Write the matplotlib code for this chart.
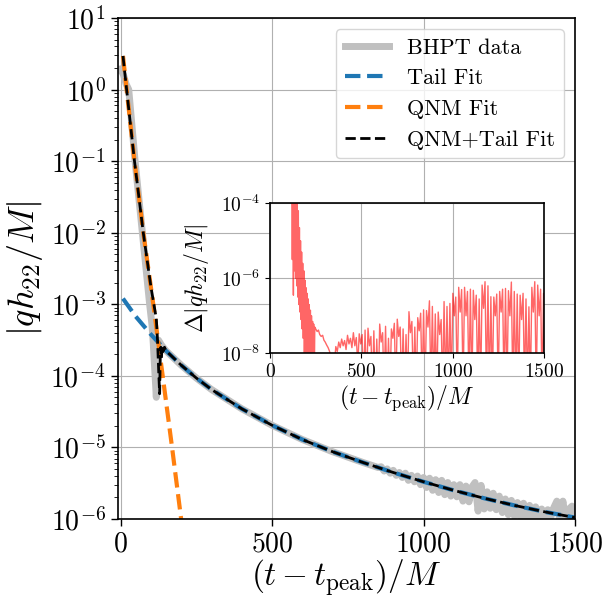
import numpy as np
import matplotlib
matplotlib.use("Agg")
import matplotlib.pyplot as plt
from matplotlib.ticker import NullLocator

plt.rcParams['font.family'] = 'serif'
plt.rcParams['font.serif'] = ['cmr10']
plt.rcParams['mathtext.fontset'] = 'cm'
plt.rcParams['axes.unicode_minus'] = False
plt.rcParams['axes.formatter.use_mathtext'] = True
plt.rcParams['axes.linewidth'] = 1.2

# --- values, stored as log10 of the amplitude ---

# BHPT data (grey), early part + smooth tail
bhpt_t = [-10, 0, 10, 18, 27, 48, 72, 96, 100, 104, 108, 112, 116, 118, 120, 122, 125, 135,
          150, 200, 250, 300, 400, 500, 600, 700, 800, 850]
bhpt_log = [0.27, 0.29, 0.2, 0.08, 0.0, -1.0, -2.0, -3.0, -3.15, -3.3, -3.55, -3.85, -4.15, -4.3,
            -4.05, -3.7, -3.5, -3.57, -3.65, -3.85, -4.03, -4.19, -4.46, -4.69, -4.89, -5.06,
            -5.21, -5.28]
# BHPT data late times (wiggly), every 10 M from 860 to 1500
bhpt_late_t = np.arange(860, 1501, 10)
bhpt_late_log = [-5.27, -5.33, -5.30, -5.36, -5.32, -5.39, -5.35, -5.42, -5.36, -5.46,
                 -5.39, -5.48, -5.40, -5.52, -5.42, -5.56, -5.43, -5.60, -5.45, -5.63,
                 -5.46, -5.66, -5.49, -5.68, -5.52, -5.69, -5.52, -5.75, -5.54, -5.76,
                 -5.55, -5.49, -5.89, -5.53, -5.86, -5.62, -5.85, -5.64, -5.87, -5.68,
                 -5.91, -5.72, -5.94, -5.74, -5.96, -5.77, -5.97, -5.78, -5.99, -5.81,
                 -5.99, -5.83, -6.00, -5.86, -5.98, -5.87, -5.98, -5.84, -5.75, -6.04,
                 -5.75, -6.04, -5.86, -5.82, -6.00]

# Tail fit
tail_t = [8, 50, 100, 150, 200, 250, 300, 400, 500, 600, 700, 800, 900, 1000,
          1100, 1200, 1300, 1400, 1500]
tail_log = [-2.92, -3.17, -3.42, -3.65, -3.85, -4.03, -4.19, -4.46, -4.69, -4.89,
            -5.06, -5.21, -5.35, -5.48, -5.60, -5.71, -5.81, -5.90, -5.98]

# QNM fit
qnm_t = [8, 20, 46, 75, 108, 139, 170, 200]
qnm_log = [0.47, 0.0, -1.0, -2.0, -3.0, -4.0, -5.0, -6.0]

# QNM + Tail fit
sum_t = [8, 20, 46, 75, 100, 118, 122, 126, 129, 131, 133, 135, 137, 140, 145, 150,
         200, 250, 300, 400, 500, 600, 700, 800, 900, 1000, 1100, 1200, 1300, 1400, 1500]
sum_log = [0.47, 0.0, -1.0, -2.0, -2.75, -3.2, -3.5, -3.95, -4.25, -3.75, -3.6, -3.75,
           -3.58, -3.66, -3.6, -3.65, -3.85, -4.03, -4.19, -4.46, -4.69, -4.89, -5.06,
           -5.21, -5.35, -5.48, -5.60, -5.71, -5.81, -5.90, -5.98]

# residual (inset): ringing band, then thin decaying part
res_early_t = [119, 122, 125, 128, 131, 134, 137, 140, 143, 146, 149, 152, 155, 158, 161,
               164, 167, 170, 173, 176, 179, 182, 185, 188, 191, 194, 197, 200, 203, 206,
               209, 212, 215, 218, 221, 224, 227, 230, 233, 236, 239, 242, 245,
               250, 258, 265, 272, 280, 288, 295, 302, 310, 318, 326, 334, 342, 350]
res_early_log = [-3.7, -5.5, -3.7, -6.45, -3.8, -5.8, -3.85, -6.0, -3.9, -6.2, -4.0, -6.5,
                 -4.2, -6.7, -4.65, -6.9, -5.0, -7.1, -5.3, -7.35, -5.6, -7.6, -5.8, -8.3,
                 -6.05, -9.0, -6.25, -9.0, -6.4, -9.0, -6.55, -9.0, -6.7, -9.0, -6.85, -9.0,
                 -7.0, -9.0, -7.15, -9.0, -7.22, -9.0, -7.3,
                 -7.35, -7.42, -7.38, -7.5, -7.55, -7.52, -7.65, -7.7, -7.78, -7.85, -7.95,
                 -8.2, -8.6, -8.4]
# residual late times: peaks every 16 M from 360, troughs 8 M later
res_peak_t = np.arange(360, 1500, 16)
res_peak_log = [-7.82, -7.70, -7.62, -7.66, -7.52, -7.60, -7.45, -7.58, -7.48, -7.50,
                -7.38, -7.33, -7.55, -7.40, -7.62, -7.22, -7.45, -7.28, -7.60, -7.35,
                -7.20, -7.09, -7.30, -7.35, -7.50, -6.89, -7.15, -7.30, -7.05, -6.93,
                -6.84, -6.86, -6.60, -6.75, -6.95, -6.90, -7.10, -6.62, -6.75, -6.67,
                -6.40, -6.50, -6.24, -6.30, -6.24, -6.35, -6.29, -6.32, -6.45, -6.55,
                -6.18, -6.09, -6.20, -6.49, -6.50, -6.42, -6.35, -6.29, -6.27, -6.33,
                -6.10, -6.35, -6.42, -6.45, -6.40, -6.55, -6.76, -6.24, -6.09, -6.18,
                -6.29, -6.40]
res_trough_log = [-7.95, -7.85, -7.80, -7.90, -7.75, -7.85, -7.80, -8.3, -7.75, -9, -9, -7.8,
                  -9, -9, -9, -7.7, -9, -9, -9, -7.6, -9, -7.55, -9, -9, -9, -7.45, -9, -9,
                  -7.4, -9, -9, -7.3, -9, -9, -9, -7.5, -9, -9, -9, -9, -7.0, -9, -6.9, -9,
                  -7.0, -9, -9, -7.1, -9, -9, -6.8, -9, -9, -9, -7.0, -9, -6.9, -9, -9, -7.0,
                  -9, -9, -9, -7.1, -9, -9, -9, -6.9, -9, -7.0, -9, -9]

res_late_t = np.column_stack([res_peak_t, res_peak_t + 8]).ravel()
res_late_log = np.column_stack([res_peak_log, res_trough_log]).ravel()
res_t = np.concatenate([res_early_t, res_late_t])
res_log = np.concatenate([res_early_log, res_late_log])

fig = plt.figure(figsize=(6.15, 5.98), dpi=100)
ax = fig.add_axes([0.1911, 0.1321, 0.7439, 0.8378])

grey_t = np.concatenate([bhpt_t, bhpt_late_t])
grey_y = 10 ** np.concatenate([bhpt_log, bhpt_late_log])
ax.semilogy(grey_t, grey_y, color='silver', lw=5, label='BHPT data')
ax.semilogy(tail_t, 10 ** np.array(tail_log), '--', color='C0', lw=3, label='Tail Fit')
ax.semilogy(qnm_t, 10 ** np.array(qnm_log), '--', color='C1', lw=3, label='QNM Fit')
ax.semilogy(sum_t, 10 ** np.array(sum_log), '--', color='k', lw=2, label='QNM+Tail Fit')

ax.set_xlim(-10, 1500)
ax.set_ylim(1e-6, 10)
ax.set_xticks([0, 500, 1000, 1500])
ax.grid(True)
ax.tick_params(labelsize=20, length=5, width=1)
ax.tick_params(which='minor', length=3)
ax.set_xlabel(r'$(t-t_{\rm peak})/M$', fontsize=24, labelpad=0)
ax.set_ylabel(r'$|qh_{22}/M|$', fontsize=26)
ax.legend(loc='upper right', fontsize=16)

ins = fig.add_axes([0.439, 0.4092, 0.446, 0.2508])
ins.semilogy(res_t, 10 ** res_log, color='red', alpha=0.6, lw=1)
ins.set_xlim(0, 1500)
ins.set_ylim(1e-8, 1e-4)
ins.set_xticks([0, 500, 1000, 1500])
ins.set_yticks([1e-8, 1e-6, 1e-4])
ins.yaxis.set_minor_locator(NullLocator())
ins.grid(True)
ins.tick_params(labelsize=14)
ins.set_xlabel(r'$(t-t_{\rm peak})/M$', fontsize=17, labelpad=2)
ins.set_ylabel(r'$\Delta|qh_{22}/M|$', fontsize=17, labelpad=7)

fig.savefig('out.png', dpi=100)
